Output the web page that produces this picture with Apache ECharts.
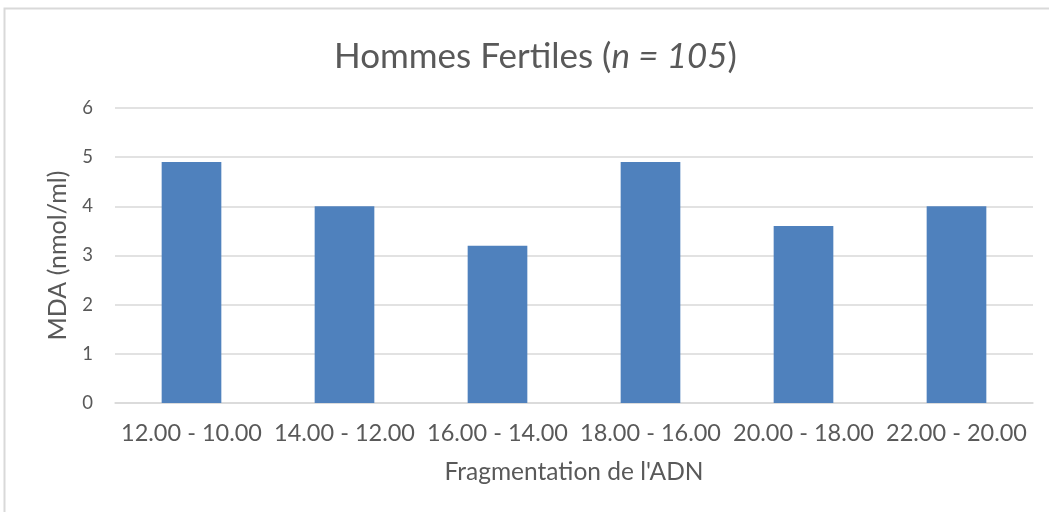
<!DOCTYPE html>
<html>
<head>
<meta charset="utf-8">
<script src="https://cdn.jsdelivr.net/npm/echarts@6/dist/echarts.min.js"></script>
<style>
  html, body { margin: 0; padding: 0; background: #fff; }
  #chart { width: 1049px; height: 512px; }
</style>
</head>
<body>
<div id="chart"></div>
<script>
// intervalles de fragmentation de l'ADN
const categories = ['12.00 - 10.00', '14.00 - 12.00', '16.00 - 14.00', '18.00 - 16.00', '20.00 - 18.00', '22.00 - 20.00'];
// MDA (nmol/ml)
const mdaValues = [4.9, 4.0, 3.2, 4.9, 3.6, 4.0];
const yTicks = [0, 1, 2, 3, 4, 5, 6];

const textColor = '#595959';
const font = 'Lato, "Open Sans", sans-serif';

const chart = echarts.init(document.getElementById('chart'));

chart.setOption({
    animation: false,
    graphic: [{
        type: 'rect',
        shape: { x: 4.5, y: 8.5, width: 1100, height: 600 },
        style: { fill: 'none', stroke: '#D9D9D9', lineWidth: 2 },
        silent: true
    }],
    title: {
        text: 'Hommes Fertiles ({i|n = 105})',
        left: 329,
        top: 34,
        textStyle: {
            fontFamily: font,
            fontSize: 35,
            fontWeight: 'normal',
            color: textColor,
            rich: {
                i: { fontFamily: font, fontSize: 35, fontStyle: 'italic', color: textColor }
            }
        }
    },
    grid: { left: 115, right: 16, top: 108, bottom: 109 },
    xAxis: {
        type: 'category',
        data: categories,
        name: "Fragmentation de l'ADN",
        nameLocation: 'middle',
        nameGap: 57,
        nameTextStyle: { fontFamily: font, fontSize: 24.5, color: textColor },
        axisLine: { lineStyle: { color: '#D9D9D9', width: 1.5 } },
        axisTick: { show: false },
        axisLabel: { fontFamily: font, fontSize: 23.5, color: textColor, margin: 18, interval: 0 }
    },
    yAxis: {
        type: 'value',
        min: yTicks[0],
        max: yTicks[yTicks.length - 1],
        interval: 1,
        name: 'MDA (nmol/ml)',
        nameLocation: 'middle',
        nameGap: 45,
        nameTextStyle: { fontFamily: font, fontSize: 25, color: textColor },
        axisLine: { show: false },
        axisTick: { show: false },
        axisLabel: { fontFamily: font, fontSize: 18.5, color: textColor, margin: 22 },
        splitLine: { lineStyle: { color: '#D9D9D9', width: 1.5 } }
    },
    series: [{
        type: 'bar',
        data: mdaValues,
        barWidth: '39%',
        itemStyle: { color: '#4F81BD' }
    }]
});
</script>
</body>
</html>
